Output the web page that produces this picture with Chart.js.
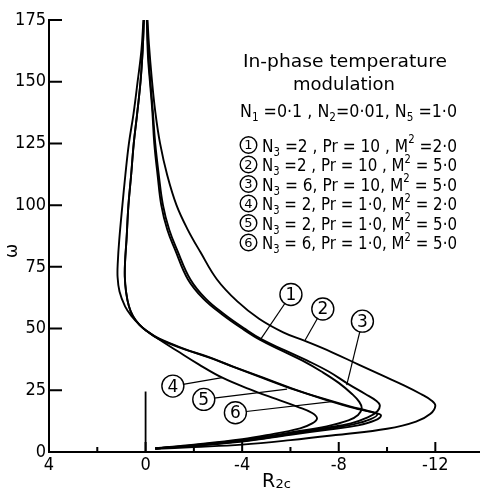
<!DOCTYPE html>
<html>
<head>
<meta charset="utf-8">
<script src="https://cdn.jsdelivr.net/npm/chart.js@4.4.1/dist/chart.umd.min.js"></script>
<style>
  html, body { margin: 0; padding: 0; background: #fff; }
  #wrap { width: 480px; height: 489px; }
</style>
</head>
<body>
<div id="wrap"><canvas id="c"></canvas></div>
<script>
// Critical correction Rayleigh number R2c against frequency ω, one curve per parameter set.
// Each curve runs from the top of the plot, through its turning point, back to the origin.

// 1: N3 = 2, Pr = 10, M² = 2.0
const curve1R = [-0.05, -0.1, -0.18, -0.28, -0.36, -0.5, -0.65, -0.9, -1.22, -1.75, -2.4, -3.2, -4.0, -4.75, -5.6, -6.5, -7.3, -8.0, -8.55, -8.85, -8.95, -8.8, -8.4, -7.5, -6.0, -5.0, -4.0, -2.0, -0.4];
const curve1W = [175, 160, 150, 138, 125, 112, 100, 90, 82, 70, 62, 55.5, 50, 45.4, 41.3, 37, 32.5, 28, 23.5, 20.3, 17.7, 15.0, 12.8, 10.4, 7.9, 6.3, 4.9, 2.8, 1.4];

// 2: N3 = 2, Pr = 10, M² = 5.0
const curve2R = [-0.08, -0.14, -0.25, -0.4, -0.6, -0.9, -1.28, -1.75, -2.27, -2.95, -3.8, -4.7, -5.7, -6.6, -7.7, -8.8, -9.8, -10.7, -11.4, -11.85, -12.0, -11.8, -11.2, -10.0, -8.0, -6.0, -4.0, -2.0, -0.4];
const curve2W = [175, 165, 152, 138, 125, 112, 100, 90, 81, 70, 61, 54, 48.5, 45, 40.5, 35.5, 31, 27, 23.5, 20.8, 18.7, 15.5, 12.3, 9.4, 7.0, 4.8, 3.0, 2.0, 1.3];

// 3: N3 = 6, Pr = 10, M² = 5.0
const curve3R = [-0.06, -0.12, -0.2, -0.3, -0.4, -0.55, -0.72, -0.98, -1.3, -1.85, -2.5, -3.3, -4.1, -4.85, -5.75, -6.7, -7.6, -8.4, -9.1, -9.55, -9.7, -9.6, -9.2, -8.5, -7.5, -6.0, -4.0, -2.0, -0.4];
const curve3W = [175, 160, 150, 138, 125, 112, 100, 90, 82, 70, 62, 55.5, 50, 45.4, 41.3, 37, 32.5, 27.5, 23.5, 20.8, 19.0, 16.5, 14.0, 11.6, 9.8, 7.6, 4.6, 2.7, 1.4];

// 4: N3 = 2, Pr = 1.0, M² = 2.0
const curve4R = [0.09, 0.17, 0.33, 0.5, 0.69, 0.84, 0.96, 1.09, 1.15, 1.16, 1.08, 0.85, 0.58, 0.25, -0.05, -0.5, -1.3, -2.2, -3.2, -4.3, -5.4, -6.3, -6.9, -7.1, -6.9, -6.4, -5.0, -4.0, -2.0, -0.4];
const curve4W = [175, 163, 150, 137, 125, 112, 100, 86, 77, 71, 65, 59, 55, 51.5, 49, 46, 41, 35.5, 30, 25.5, 21.5, 18.3, 15.8, 13.6, 11.6, 9.6, 6.8, 5.2, 3.0, 1.5];

// 5: N3 = 2, Pr = 1.0, M² = 5.0
const curve5R = [0.07, 0.12, 0.21, 0.35, 0.49, 0.6, 0.71, 0.79, 0.85, 0.86, 0.81, 0.69, 0.52, 0.25, -0.05, -0.5, -1.5, -2.6, -3.5, -4.7, -6.0, -7.3, -8.5, -9.25, -9.6, -9.3, -8.6, -7.5, -6.0, -4.0, -2.0, -0.4];
const curve5W = [175, 163, 150, 137, 125, 112, 100, 86, 77, 71, 65, 59, 55, 51.5, 49, 46, 42, 38.5, 35, 30.5, 25.8, 21.8, 18.4, 16.5, 15.3, 13.2, 11.2, 9.5, 7.3, 4.4, 2.6, 1.4];

// 6: N3 = 6, Pr = 1.0, M² = 5.0
const curve6R = [0.07, 0.12, 0.21, 0.35, 0.49, 0.6, 0.71, 0.79, 0.85, 0.86, 0.81, 0.69, 0.52, 0.25, -0.05, -0.55, -1.6, -2.7, -3.65, -4.9, -6.2, -7.7, -8.8, -9.5, -9.75, -9.5, -8.8, -7.6, -6.0, -4.0, -2.0, -0.4];
const curve6W = [175, 163, 150, 137, 125, 112, 100, 86, 77, 71, 65, 59, 55, 51.5, 49, 46, 41.8, 38, 34.5, 30, 25.3, 20.4, 17.4, 15.8, 14.8, 12.8, 10.8, 9.1, 7.0, 4.2, 2.5, 1.4];

// short marker line at R2c = 0
const zeroLineR = [0, 0];
const zeroLineW = [0, 24.5];

// circled curve numbers and the point each leader touches
const labelR  = [-6.02, -7.34, -8.98, -1.13, -2.41, -3.72];
const labelW  = [63.8, 57.9, 53.0, 26.7, 21.3, 15.9];
const leaderR = [-4.75, -6.61, -8.33, -3.17, -5.86, -7.71];
const leaderW = [45.4, 45.4, 27.1, 30.1, 25.5, 20.4];

// axes
const xTickValues = [4, 0, -4, -8, -12];
const xTickLabels = ['4', '0', '-4', '-8', '-12'];
const xMinorTicks = [2, -2, -6, -10];
const yTickValues = [0, 25, 50, 75, 100, 125, 150, 175];
const yTickLabels = ['0', '25', '50', '75', '100', '125', '150', '175'];

// parameter key
const n3Values = ['=2 ,', '=2 ,', '= 6,', '= 2,', '= 2,', '= 6,'];
const prValues = ['= 10 ,', '= 10 ,', '= 10,', '= 1·0,', '= 1·0,', '= 1·0,'];
const m2Values = ['=2·0', '= 5·0', '= 5·0', '= 2·0', '= 5·0', '= 5·0'];

const pts = (rs, ws) => rs.map((r, i) => ({ x: r, y: ws[i] }));

const curveSets = [
  [curve1R, curve1W], [curve2R, curve2W], [curve3R, curve3W],
  [curve4R, curve4W], [curve5R, curve5W], [curve6R, curve6W]
];

const datasets = curveSets.map(([r, w]) => ({
  data: pts(r, w), showLine: true, borderColor: '#000', borderWidth: 1.9,
  pointRadius: 0, tension: 0.4, fill: false
}));
datasets.push({ data: pts(zeroLineR, zeroLineW), showLine: true, borderColor: '#000',
  borderWidth: 1.8, pointRadius: 0, tension: 0 });
labelR.forEach((r, i) => {
  datasets.push({ data: [{ x: r, y: labelW[i] }, { x: leaderR[i], y: leaderW[i] }],
    showLine: true, borderColor: '#000', borderWidth: 1.2, pointRadius: 0, tension: 0 });
});

const TICK_FONT = "'Liberation Sans Narrow', 'DejaVu Sans Condensed', sans-serif";
const TEXT_FONT = "'DejaVu Sans', sans-serif";

function circled(ctx, cx, cy, r, txt, size) {
  ctx.save();
  ctx.beginPath();
  ctx.arc(cx, cy, r, 0, Math.PI * 2);
  ctx.fillStyle = '#fff';
  ctx.fill();
  ctx.lineWidth = 1.4;
  ctx.strokeStyle = '#000';
  ctx.stroke();
  ctx.fillStyle = '#000';
  ctx.font = size + 'px ' + TEXT_FONT;
  ctx.textAlign = 'center';
  ctx.textBaseline = 'middle';
  ctx.fillText(txt, cx, cy + 1);
  ctx.restore();
}

// draws a run of text pieces; 'b' = subscript, 'p' = superscript.
// When a width is given the run is squeezed horizontally to fit it.
function rich(ctx, x, y, parts, size, width) {
  const fontFor = mode => (mode === 'n' ? size : size * 0.66) + 'px ' + TEXT_FONT;
  ctx.save();
  let natural = 0;
  for (const [t, mode] of parts) { ctx.font = fontFor(mode); natural += ctx.measureText(t).width; }
  const k = width ? width / natural : 1;
  ctx.translate(x, y);
  ctx.scale(k, 1);
  ctx.fillStyle = '#000';
  ctx.textAlign = 'left';
  ctx.textBaseline = 'alphabetic';
  let cx = 0;
  for (const [t, mode] of parts) {
    let dy = 0;
    if (mode === 'b') dy = size * 0.22;
    if (mode === 'p') dy = -size * 0.45;
    ctx.font = fontFor(mode);
    ctx.fillText(t, cx, dy);
    cx += ctx.measureText(t).width;
  }
  ctx.restore();
}

const decor = {
  id: 'decor',
  afterDatasetsDraw(chart) {
    const { ctx, chartArea: a, scales: { x, y } } = chart;
    ctx.save();
    ctx.strokeStyle = '#000';
    ctx.lineWidth = 2;
    // inward tick marks
    ctx.beginPath();
    yTickValues.forEach(v => {
      const py = y.getPixelForValue(v);
      ctx.moveTo(a.left, py); ctx.lineTo(a.left + 13, py);
    });
    xTickValues.forEach(v => {
      const px = x.getPixelForValue(v);
      ctx.moveTo(px, a.bottom); ctx.lineTo(px, a.bottom - 10);
    });
    xMinorTicks.forEach(v => {
      const px = x.getPixelForValue(v);
      ctx.moveTo(px, a.bottom); ctx.lineTo(px, a.bottom - 5);
    });
    ctx.stroke();
    ctx.restore();

    // circled curve numbers
    labelR.forEach((r, i) => {
      circled(ctx, x.getPixelForValue(r), y.getPixelForValue(labelW[i]), 11, String(i + 1), 17);
    });

    // parameter key
    const fs = 18.5;
    rich(ctx, 243, 67, [['In-phase temperature', 'n']], fs, 204);
    rich(ctx, 293, 90, [['modulation', 'n']], fs, 102);
    rich(ctx, 240, 117, [['N', 'n'], ['1', 'b'], [' =0·1 , N', 'n'], ['2', 'b'], ['=0·01, N', 'n'], ['5', 'b'], [' =1·0', 'n']], fs, 217);
    const rowY = [151.5, 171, 190.5, 210, 229.5, 249];
    rowY.forEach((by, i) => {
      circled(ctx, 248.5, by - 6.5, 8.3, String(i + 1), 13);
      rich(ctx, 262, by, [['N', 'n'], ['3', 'b'], [' ' + n3Values[i] + ' Pr ' + prValues[i] + ' M', 'n'], ['2', 'p'], [' ' + m2Values[i], 'n']], fs, 195);
    });

    // axis titles
    rich(ctx, 262, 486.5, [['R', 'n']], 19);
    ctx.save();
    ctx.fillStyle = '#000';
    ctx.font = '13px ' + TEXT_FONT;
    ctx.fillText('2c', 275.5, 488);
    ctx.restore();
    ctx.save();
    ctx.translate(13, 251);
    ctx.rotate(-Math.PI / 2);
    ctx.fillStyle = '#000';
    ctx.font = '17px ' + TEXT_FONT;
    ctx.textAlign = 'center';
    ctx.textBaseline = 'middle';
    ctx.fillText('ω', 0, 0);
    ctx.restore();
  }
};

new Chart(document.getElementById('c'), {
  type: 'scatter',
  data: { datasets },
  options: {
    responsive: true,
    maintainAspectRatio: false,
    devicePixelRatio: 1,
    animation: false,
    layout: { padding: { top: 20, left: 0, right: 0, bottom: 0 } },
    plugins: { legend: { display: false }, tooltip: { enabled: false } },
    scales: {
      x: {
        type: 'linear', reverse: true, min: -13.85, max: 4,
        afterBuildTicks: s => { s.ticks = xTickValues.map(v => ({ value: v })); },
        afterFit: s => { s.height = 37; },
        grid: { display: false, drawTicks: false },
        border: { display: true, color: '#000', width: 2 },
        ticks: {
          autoSkip: false, maxRotation: 0, padding: 3, color: '#000',
          font: { family: TICK_FONT, size: 18 },
          callback: v => xTickLabels[xTickValues.indexOf(v)]
        }
      },
      y: {
        type: 'linear', min: 0, max: 175,
        afterBuildTicks: s => { s.ticks = yTickValues.map(v => ({ value: v })); },
        afterFit: s => { s.width = 49; },
        grid: { display: false, drawTicks: false },
        border: { display: true, color: '#000', width: 2 },
        ticks: {
          autoSkip: false, padding: 3, color: '#000',
          font: { family: TICK_FONT, size: 18 },
          callback: v => yTickLabels[yTickValues.indexOf(v)]
        }
      }
    }
  },
  plugins: [decor]
});
</script>
</body>
</html>
